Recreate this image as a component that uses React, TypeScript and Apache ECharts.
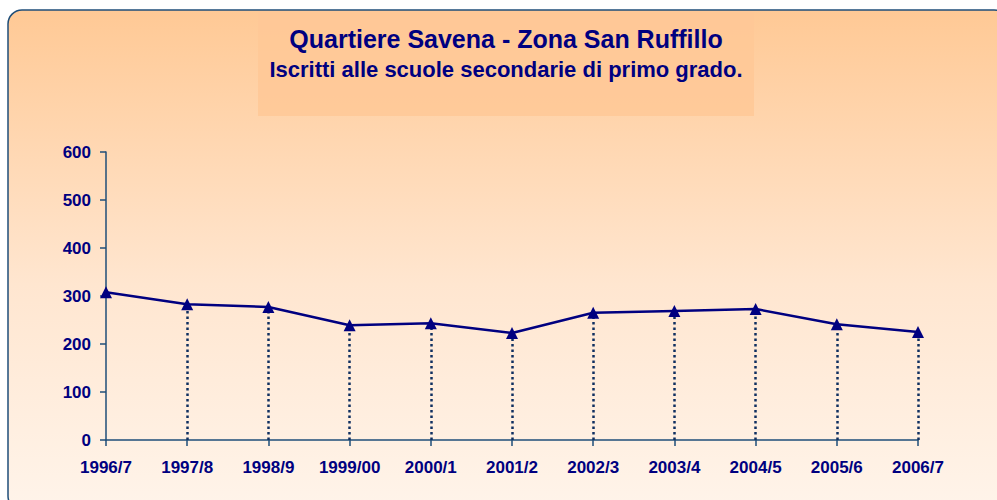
import React, { useEffect, useRef } from "react";
import * as echarts from "echarts";

const categories = ["1996/7", "1997/8", "1998/9", "1999/00", "2000/1", "2001/2", "2002/3", "2003/4", "2004/5", "2005/6", "2006/7"];
const iscritti = [308, 283, 277, 239, 243, 223, 265, 269, 273, 241, 225];
const titleText = "Quartiere Savena - Zona San Ruffillo";
const subtitleText = "Iscritti alle scuole secondarie di primo grado.";

export default function App() {
  const ref = useRef<HTMLDivElement>(null);
  useEffect(() => {
    if (!ref.current) return;
    const chart = echarts.init(ref.current, null, { renderer: "svg" });
    const font = "'Liberation Sans', Arial, sans-serif";
    const navy = "#000080";
    const axisCol = "#1F4E79";
    chart.setOption({
      animation: false,
      graphic: [
        {
          type: "rect",
          z: -10,
          shape: { x: 8, y: 10, width: 1000, height: 500, r: 14 },
          style: {
            fill: new echarts.graphic.LinearGradient(0, 0, 0, 1, [
              { offset: 0, color: "#FFC995" },
              { offset: 0.55, color: "#FFE6D0" },
              { offset: 1, color: "#FFF4EA" },
            ]),
            stroke: axisCol,
            lineWidth: 1.5,
          },
        },
        {
          type: "rect",
          z: -9,
          shape: { x: 258, y: 11, width: 496, height: 105 },
          style: { fill: "#FFC896", opacity: 0.85 },
        },
        {
          type: "text",
          x: 506,
          y: 39,
          style: {
            text: titleText,
            fill: navy,
            font: `bold 25px ${font}`,
            align: "center",
            verticalAlign: "middle",
          },
        },
        {
          type: "text",
          x: 506,
          y: 69,
          style: {
            text: subtitleText,
            fill: navy,
            font: `bold 22px ${font}`,
            align: "center",
            verticalAlign: "middle",
          },
        },
      ],
      grid: { left: 106, right: 79, top: 152, bottom: 60, containLabel: false },
      xAxis: {
        type: "category",
        data: categories,
        boundaryGap: false,
        axisLine: { lineStyle: { color: axisCol, width: 1.5 } },
        axisTick: { show: true, length: 6, lineStyle: { color: axisCol, width: 1.5 } },
        axisLabel: { color: navy, fontFamily: font, fontWeight: "bold", fontSize: 17, margin: 19 },
        splitLine: { show: false },
      },
      yAxis: {
        type: "value",
        min: 0,
        max: 600,
        interval: 100,
        axisLine: { show: true, lineStyle: { color: axisCol, width: 1.5 } },
        axisTick: { show: true, length: 6, lineStyle: { color: axisCol, width: 1.5 } },
        axisLabel: { color: navy, fontFamily: font, fontWeight: "bold", fontSize: 17, margin: 15 },
        splitLine: { show: false },
      },
      series: [
        {
          type: "line",
          data: iscritti,
          symbol: "triangle",
          symbolSize: 12,
          itemStyle: { color: navy },
          lineStyle: { color: navy, width: 2.5 },
          z: 5,
          markLine: {
            silent: true,
            symbol: "none",
            label: { show: false },
            lineStyle: { type: [2.5, 3], color: "#0F2F60", width: 2.5 },
            data: iscritti
              .map((v, i) => [
                { coord: [i, 0] },
                { coord: [i, v] },
              ])
              .slice(1),
          },
        },
      ],
    });
    return () => chart.dispose();
  }, []);
  return (
    <div
      ref={ref}
      style={{ position: "absolute", left: 0, top: 0, width: 997, height: 500 }}
    />
  );
}
